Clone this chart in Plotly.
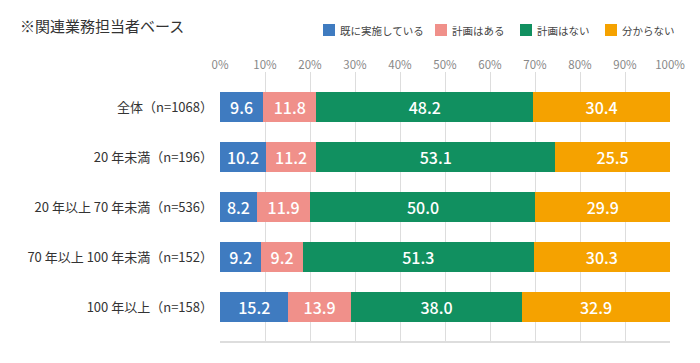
import plotly.graph_objects as go

categories = ["全体（n=1068）", "20 年未満（n=196）", "20 年以上 70 年未満（n=536）",
              "70 年以上 100 年未満（n=152）", "100 年以上（n=158）"]
series_names = ["既に実施している", "計画はある", "計画はない", "分からない"]
implemented = [9.6, 10.2, 8.2, 9.2, 15.2]
planned = [11.8, 11.2, 11.9, 9.2, 13.9]
not_planned = [48.2, 53.1, 50.0, 51.3, 38.0]
unknown = [30.4, 25.5, 29.9, 30.3, 32.9]
tick_vals = [0, 10, 20, 30, 40, 50, 60, 70, 80, 90, 100]
tick_text = [f"{v}%" for v in tick_vals]

colors = ["#3f7bc0", "#f0908a", "#119060", "#f5a200"]
values = [implemented, planned, not_planned, unknown]

FONT = "Noto Sans CJK JP"
W, H = 700, 363
fig = go.Figure()
for name, vals, col in zip(series_names, values, colors):
    fig.add_trace(go.Bar(
        y=categories, x=vals, name=name, orientation="h",
        marker=dict(color=col, line=dict(width=0)),
        width=0.6,
        texttemplate="%{x:.1f}", textposition="inside", insidetextanchor="middle",
        textangle=0, constraintext="none",
        textfont=dict(color="white", size=16, family=FONT, weight=500),
        hoverinfo="skip", showlegend=False,
    ))

# manual legend (square + label) positioned in pixels
legend_x = [323, 435, 520, 605]
for name, col, lx in zip(series_names, colors, legend_x):
    fig.add_shape(type="rect", xref="paper", yref="paper",
                  x0=(lx - 220) / 450, x1=(lx + 12 - 220) / 450,
                  y0=(H - 21 - 36) / 270, y1=(H - 21 - 24) / 270,
                  fillcolor=col, line=dict(width=0), layer="above")
    fig.add_annotation(text=name, xref="paper", yref="paper",
                       x=(lx + 15 - 220) / 450, y=(H - 21 - 30) / 270,
                       xanchor="left", yanchor="middle", showarrow=False,
                       font=dict(size=10.5, color="#444444", family=FONT))

fig.update_layout(
    barmode="stack",
    width=W, height=H,
    margin=dict(l=220, r=30, t=72, b=21),
    paper_bgcolor="white", plot_bgcolor="white",
    font=dict(family=FONT, color="#333333"),
    showlegend=False,
    title=dict(text="※関連業務担当者ベース", x=20 / W, xanchor="left", y=1 - 27 / H, yanchor="middle",
               font=dict(size=15, color="#333333", family=FONT)),
    xaxis=dict(side="top", range=[0, 100], tickvals=tick_vals, ticktext=tick_text,
               showgrid=True, gridcolor="#dddddd", gridwidth=1, zeroline=False,
               showline=False, ticks="", tickfont=dict(size=11.5, color="#888888", family=FONT),
               fixedrange=True),
    yaxis=dict(autorange=False, range=[4.7, -0.7], categoryorder="array", categoryarray=categories,
               showgrid=False, zeroline=False, ticks="", showline=False,
               tickfont=dict(size=13, color="#333333", family=FONT), ticklabelstandoff=6),
)
# bottom axis line
fig.add_shape(type="line", xref="paper", yref="paper", x0=0, x1=1, y0=0, y1=0,
              line=dict(color="#dddddd", width=2))
fig.write_html("out.html", config={"displayModeBar": False},
               post_script="document.body.style.margin='0';")
